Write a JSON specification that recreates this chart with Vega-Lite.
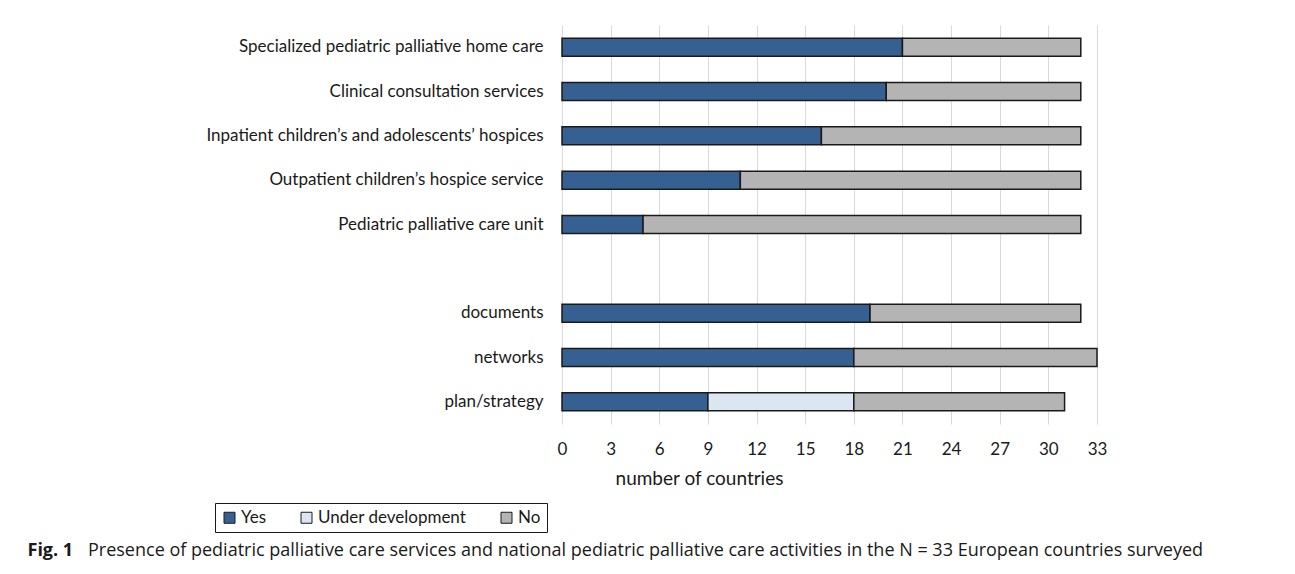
{
  "$schema": "https://vega.github.io/schema/vega-lite/v6.json",
  "autosize": {"type": "none"},
  "padding": {"left": 562, "top": 25, "right": 198, "bottom": 150},
  "width": 535,
  "height": 399,
  "background": "white",
  "data": {
    "values": [
      {"item": "Specialized pediatric palliative home care", "response": "Yes", "count": 21},
      {"item": "Specialized pediatric palliative home care", "response": "No", "count": 11},
      {"item": "Clinical consultation services", "response": "Yes", "count": 20},
      {"item": "Clinical consultation services", "response": "No", "count": 12},
      {"item": "Inpatient children’s and adolescents’ hospices", "response": "Yes", "count": 16},
      {"item": "Inpatient children’s and adolescents’ hospices", "response": "No", "count": 16},
      {"item": "Outpatient children’s hospice service", "response": "Yes", "count": 11},
      {"item": "Outpatient children’s hospice service", "response": "No", "count": 21},
      {"item": "Pediatric palliative care unit", "response": "Yes", "count": 5},
      {"item": "Pediatric palliative care unit", "response": "No", "count": 27},
      {"item": "documents", "response": "Yes", "count": 19},
      {"item": "documents", "response": "No", "count": 13},
      {"item": "networks", "response": "Yes", "count": 18},
      {"item": "networks", "response": "No", "count": 15},
      {"item": "plan/strategy", "response": "Yes", "count": 9},
      {"item": "plan/strategy", "response": "Under development", "count": 9},
      {"item": "plan/strategy", "response": "No", "count": 13}
    ]
  },
  "mark": {"type": "bar", "stroke": "#1a1a1a", "strokeWidth": 1.5},
  "encoding": {
    "y": {
      "field": "item",
      "type": "nominal",
      "scale": {
        "domain": [
          "Specialized pediatric palliative home care",
          "Clinical consultation services",
          "Inpatient children’s and adolescents’ hospices",
          "Outpatient children’s hospice service",
          "Pediatric palliative care unit",
          "",
          "documents",
          "networks",
          "plan/strategy"
        ],
        "paddingInner": 0.594,
        "paddingOuter": 0.297
      },
      "axis": {
        "title": "Fig. 1",
        "titleAngle": 0,
        "titleX": -535,
        "titleY": 525,
        "titleAlign": "left",
        "titleBaseline": "middle",
        "titleFont": "Open Sans",
        "titleFontSize": 18,
        "titleFontWeight": "bold",
        "titleColor": "#1a1a1a",
        "domain": false,
        "ticks": false,
        "labelPadding": 19,
        "labelFont": "Lato",
        "labelFontSize": 17,
        "labelColor": "#1a1a1a",
        "labelLimit": 500
      }
    },
    "x": {
      "field": "count",
      "type": "quantitative",
      "stack": "zero",
      "scale": {"domain": [0, 33], "nice": false},
      "axis": {
        "values": [0, 3, 6, 9, 12, 15, 18, 21, 24, 27, 30, 33],
        "title": "number of countries",
        "titleFont": "Lato",
        "titleFontSize": 19,
        "titleFontWeight": "normal",
        "titleColor": "#1a1a1a",
        "titleX": 137,
        "titleY": 54,
        "titleBaseline": "middle",
        "titleAlign": "center",
        "domain": false,
        "ticks": false,
        "grid": true,
        "gridColor": "#d9d9d9",
        "gridWidth": 1,
        "labelFlush": false,
        "labelPadding": 17,
        "labelFont": "Lato",
        "labelFontSize": 17,
        "labelColor": "#1a1a1a"
      }
    },
    "color": {
      "field": "response",
      "type": "nominal",
      "scale": {
        "domain": ["Yes", "Under development", "No"],
        "range": ["#376092", "#dce6f2", "#b4b4b4"]
      },
      "legend": {
        "title": null,
        "orient": "none",
        "direction": "horizontal",
        "legendX": -347,
        "legendY": 478,
        "symbolType": "square",
        "symbolSize": 121,
        "symbolStrokeColor": "#1a1a1a",
        "symbolStrokeWidth": 1,
        "labelFont": "Lato",
        "labelFontSize": 17,
        "labelColor": "#1a1a1a",
        "labelOffset": 3,
        "columnPadding": 31,
        "padding": 6,
        "strokeColor": "#1a1a1a"
      }
    },
    "order": {"field": "response", "sort": "descending"}
  },
  "title": {
    "text": "Presence of pediatric palliative care services and national pediatric palliative care activities in the N = 33 European countries surveyed",
    "orient": "bottom",
    "anchor": "start",
    "frame": "group",
    "dx": -474,
    "dy": -27,
    "offset": 10,
    "font": "Open Sans",
    "fontSize": 18,
    "fontWeight": "normal",
    "color": "#1a1a1a"
  },
  "config": {"view": {"stroke": null}}
}
